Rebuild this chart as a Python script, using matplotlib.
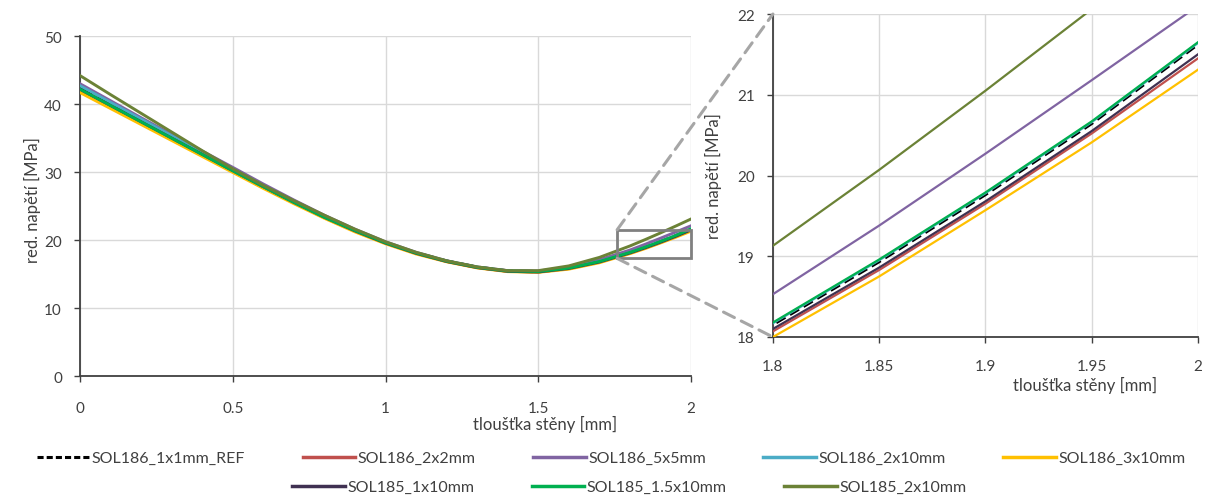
import matplotlib
matplotlib.use("Agg")
import matplotlib.pyplot as plt
from matplotlib.patches import Rectangle, ConnectionPatch
from matplotlib.lines import Line2D

plt.rcParams['font.family'] = ['Lato', 'DejaVu Sans']

# tloušťka stěny [mm]
x = [0, 0.1, 0.2, 0.3, 0.4, 0.5, 0.6, 0.7, 0.8, 0.9, 1.0, 1.1, 1.2, 1.3, 1.4,
     1.5, 1.6, 1.7, 1.8, 1.85, 1.9, 1.95, 2.0]

sol186_1x1_ref = [42.3, 39.9, 37.5, 35.1, 32.7, 30.3, 27.9, 25.6, 23.4, 21.4, 19.6, 18.1,
                  16.9, 16.0, 15.45, 15.35, 15.85, 16.8, 18.15, 18.93, 19.76, 20.64, 21.62]
sol186_2x2 = [42.0, 39.65, 37.3, 34.9, 32.55, 30.2, 27.85, 25.55, 23.35, 21.35, 19.55, 18.05,
              16.85, 15.95, 15.4, 15.3, 15.8, 16.75, 18.07, 18.83, 19.65, 20.52, 21.45]
sol186_5x5 = [43.0, 40.5, 38.0, 35.55, 33.1, 30.7, 28.25, 25.9, 23.65, 21.6, 19.75, 18.2,
              16.95, 16.05, 15.5, 15.45, 16.0, 17.1, 18.53, 19.38, 20.27, 21.18, 22.1]
sol186_2x10 = [42.7, 40.25, 37.8, 35.35, 32.9, 30.45, 28.0, 25.7, 23.5, 21.45, 19.65, 18.1,
               16.9, 16.0, 15.45, 15.37, 15.87, 16.83, 18.17, 18.95, 19.78, 20.66, 21.64]
sol186_3x10 = [41.7, 39.35, 37.0, 34.65, 32.3, 29.95, 27.6, 25.35, 23.2, 21.2, 19.45, 17.95,
               16.8, 15.9, 15.35, 15.25, 15.72, 16.66, 18.0, 18.75, 19.57, 20.41, 21.31]
sol185_1x10 = [42.2, 39.8, 37.4, 35.0, 32.6, 30.2, 27.85, 25.55, 23.35, 21.35, 19.55, 18.05,
               16.85, 15.95, 15.4, 15.3, 15.82, 16.77, 18.1, 18.86, 19.68, 20.55, 21.5]
sol185_15x10 = [42.2, 39.8, 37.4, 35.0, 32.6, 30.2, 27.85, 25.55, 23.35, 21.4, 19.6, 18.1,
                16.9, 16.0, 15.45, 15.37, 15.88, 16.84, 18.18, 18.96, 19.79, 20.67, 21.65]
sol185_2x10 = [44.2, 41.4, 38.65, 35.9, 33.15, 30.5, 28.05, 25.8, 23.65, 21.6, 19.75, 18.2,
               16.95, 16.05, 15.5, 15.5, 16.2, 17.45, 19.13, 20.07, 21.05, 22.06, 23.1]

series = [
    ("SOL186_1x1mm_REF", sol186_1x1_ref, "black", "--"),
    ("SOL186_2x2mm", sol186_2x2, "#C0504D", "-"),
    ("SOL186_5x5mm", sol186_5x5, "#8064A2", "-"),
    ("SOL186_2x10mm", sol186_2x10, "#4BACC6", "-"),
    ("SOL186_3x10mm", sol186_3x10, "#FFC000", "-"),
    ("SOL185_1x10mm", sol185_1x10, "#403152", "-"),
    ("SOL185_1.5x10mm", sol185_15x10, "#00B050", "-"),
    ("SOL185_2x10mm", sol185_2x10, "#6B8236", "-"),
]
# drawing order (green drawn over the dashed reference, as in the original)
draw_order = [4, 1, 5, 3, 2, 7, 0, 6]

txt = "#404040"
grid_c = "#D9D9D9"

fig = plt.figure(figsize=(12.10, 5.02), dpi=100)
ax1 = fig.add_axes([0.0661, 0.249, 0.505, 0.677])
ax2 = fig.add_axes([0.6388, 0.3267, 0.3512, 0.6434])


def style(ax):
    for s in ["top", "right"]:
        ax.spines[s].set_visible(False)
    for s in ["left", "bottom"]:
        ax.spines[s].set_color("#404040")
        ax.spines[s].set_linewidth(1.3)
    ax.grid(True, color=grid_c, linewidth=1.0)
    ax.set_axisbelow(True)
    ax.tick_params(direction="out", length=4, width=1, colors="#404040",
                   labelcolor=txt, labelsize=11)


for ax, lw in [(ax1, 2.1), (ax2, 1.6)]:
    for i in draw_order:
        name, y, c, ls = series[i]
        if ls == "--":
            ax.plot(x, y, color=c, linestyle=(0, (4, 2)), linewidth=lw + 0.3, zorder=3 + i * 0.01)
        else:
            ax.plot(x, y, color=c, linewidth=lw, zorder=3 + i * 0.01)
    style(ax)

ax1.set_xlim(0, 2)
ax1.set_ylim(0, 50)
ax1.set_xticks([0, 0.5, 1, 1.5, 2])
ax1.set_xticklabels(["0", "0.5", "1", "1.5", "2"])
ax1.set_yticks([0, 10, 20, 30, 40, 50])
ax1.tick_params(axis="x", pad=14)
ax1.tick_params(axis="y", pad=9)
ax1.set_xlabel("tloušťka stěny [mm]", fontsize=12, color=txt)
ax1.xaxis.set_label_coords(0.761, -0.115)
ax1.set_ylabel("red. napětí [MPa]", fontsize=12, color=txt)
ax1.yaxis.set_label_coords(-0.064, 0.52)

ax2.set_xlim(1.8, 2)
ax2.set_ylim(18, 22)
ax2.set_xticks([1.8, 1.85, 1.9, 1.95, 2])
ax2.set_xticklabels(["1.8", "1.85", "1.9", "1.95", "2"])
ax2.set_yticks([18, 19, 20, 21, 22])
ax2.tick_params(axis="x", pad=12)
ax2.tick_params(axis="y", pad=9)
ax2.set_xlabel("tloušťka stěny [mm]", fontsize=12, color=txt)
ax2.xaxis.set_label_coords(0.735, -0.12)
ax2.set_ylabel("red. napětí [MPa]", fontsize=12, color=txt)
ax2.yaxis.set_label_coords(-0.12, 0.5)

# zoom box and connectors
rx0, rx1, ry0, ry1 = 1.758, 2.0, 17.3, 21.5
ax1.add_patch(Rectangle((rx0, ry0), rx1 - rx0, ry1 - ry0, fill=False,
                        edgecolor="#808080", linewidth=2, zorder=6, clip_on=False))
for (xa, ya), (xb, yb) in [((rx0, ry1), (0, 1)), ((rx0, ry0), (0, 0))]:
    con = ConnectionPatch(xyA=(xa, ya), coordsA=ax1.transData,
                          xyB=(xb, yb), coordsB=ax2.transAxes,
                          color="#A6A6A6", linewidth=2.2, linestyle=(0, (4, 2.5)), zorder=10)
    fig.add_artist(con)

# legend in two centred rows
handles = []
for name, y, c, ls in series:
    if ls == "--":
        handles.append(Line2D([], [], color=c, linestyle=(0, (2, 1)), linewidth=2.2, label=name))
    else:
        handles.append(Line2D([], [], color=c, linewidth=2.5, label=name))

leg_kw = dict(frameon=False, fontsize=11.5, handlelength=3.3, handletextpad=0.15,
              columnspacing=3.6, labelcolor=txt, loc="center", borderpad=0)
leg1 = fig.legend(handles=handles[:5], ncol=5, bbox_to_anchor=(0.505, 1 - 459 / 502), **leg_kw)
leg2 = fig.legend(handles=handles[5:], ncol=3, bbox_to_anchor=(0.52, 1 - 488 / 502), **leg_kw)

fig.savefig("out.png", dpi=100)
